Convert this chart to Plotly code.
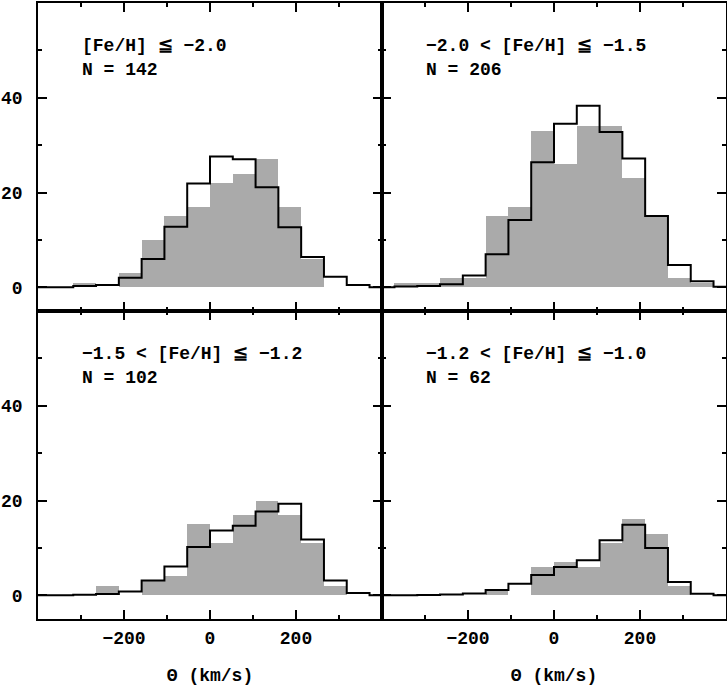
import plotly.graph_objects as go
from plotly.subplots import make_subplots

# bin edges (km/s) for the shaded histograms
bin_left = [-371, -318, -265, -212, -159, -106, -53, 0, 53, 106, 159, 212, 265, 318]
bin_right = [-318, -265, -212, -159, -106, -53, 0, 53, 106, 159, 212, 265, 318, 371]
# edges for the model step line (includes outer partial segments)
step_edges = [-400, -371, -318, -265, -212, -159, -106, -53, 0, 53, 106, 159, 212, 265, 318, 371, 400]

x_tickvals = [-200, 0, 200]
x_ticktext = ["−200", "0", "200"]
y_tickvals = [0, 20, 40]

labels = ["[Fe/H] ≦ −2.0", "−2.0 < [Fe/H] ≦ −1.5", "−1.5 < [Fe/H] ≦ −1.2", "−1.2 < [Fe/H] ≦ −1.0"]
counts_text = ["N = 142", "N = 206", "N = 102", "N = 62"]

gray_p1 = [0, 1, 0, 3, 10, 15, 17, 22, 24, 27, 17, 6, 0, 0]
gray_p2 = [1, 1, 2, 2, 15, 17, 33, 26, 34, 34, 23, 15, 2, 1]
gray_p3 = [0, 0, 2, 0, 3, 4, 15, 11, 17, 20, 17, 11, 2, 0]
gray_p4 = [0, 0, 0, 0, 1, 0, 6, 7, 6, 11, 16, 13, 2, 0]

line_p1 = [0, 0, 0.3, 0.5, 2.0, 6.0, 12.8, 21.9, 27.6, 27.0, 21.1, 12.7, 6.4, 2.25, 0.5, 0]
line_p2 = [0, 0.15, 0.3, 0.65, 2.5, 7.0, 14.2, 26.4, 34.5, 38.3, 32.8, 27.2, 15.05, 4.7, 1.3, 0.1]
line_p3 = [0, 0, 0.1, 0.3, 0.8, 3.15, 6.1, 10.2, 13.7, 14.7, 17.7, 19.3, 11.8, 3.15, 0.5, 0]
line_p4 = [0, 0, 0.05, 0.15, 0.4, 1.1, 2.45, 4.3, 6.0, 7.4, 11.6, 14.9, 10.0, 2.8, 0.35, 0]

grays = [gray_p1, gray_p2, gray_p3, gray_p4]
lines = [line_p1, line_p2, line_p3, line_p4]

FONT = "Liberation Mono"
TXT = dict(family=FONT, size=18, color="black", weight="bold")

fig = make_subplots(rows=2, cols=2, horizontal_spacing=0, vertical_spacing=0,
                    shared_xaxes=True, shared_yaxes=True)

for i in range(4):
    r, c = i // 2 + 1, i % 2 + 1
    centers = [(a + b) / 2 for a, b in zip(bin_left, bin_right)]
    widths = [b - a for a, b in zip(bin_left, bin_right)]
    fig.add_trace(go.Bar(x=centers, y=grays[i], width=widths,
                         marker=dict(color="#aaaaaa", line=dict(width=0)),
                         showlegend=False), row=r, col=c)
    fig.add_trace(go.Scatter(x=step_edges, y=lines[i] + [lines[i][-1]],
                             mode="lines", line=dict(shape="hv", color="black", width=2),
                             showlegend=False), row=r, col=c)
    fig.add_annotation(x=-302, y=51, text=labels[i], showarrow=False,
                       xanchor="left", yanchor="middle", font=TXT, row=r, col=c)
    fig.add_annotation(x=-302, y=45.8, text=counts_text[i], showarrow=False,
                       xanchor="left", yanchor="middle", font=TXT, row=r, col=c)

fig.update_xaxes(range=[-400, 400], tickvals=x_tickvals, ticktext=x_ticktext,
                 ticks="inside", ticklen=9, tickwidth=1.5, tickcolor="black",
                 minor=dict(dtick=100, tick0=0, ticks="inside", ticklen=4, tickwidth=1.5, tickcolor="black"),
                 showline=True, linewidth=1.7, linecolor="black", mirror="allticks",
                 showgrid=False, zeroline=False, automargin=False, ticklabelstandoff=2,
                 tickfont=TXT)
fig.update_yaxes(range=[-5, 60], tickvals=y_tickvals,
                 ticks="inside", ticklen=9, tickwidth=1.5, tickcolor="black",
                 minor=dict(dtick=10, tick0=0, ticks="inside", ticklen=4, tickwidth=1.5, tickcolor="black"),
                 showline=True, linewidth=1.7, linecolor="black", mirror="allticks",
                 showgrid=False, zeroline=False, automargin=False, ticklabelstandoff=10,
                 tickfont=TXT)
for c in (1, 2):
    fig.update_xaxes(title=dict(text="Θ (km/s)", font=TXT, standoff=20), row=2, col=c)

fig.update_layout(width=727, height=687, margin=dict(l=38, r=1, t=3, b=68, autoexpand=False),
                  plot_bgcolor="white", paper_bgcolor="white", bargap=0,
                  font=dict(family=FONT, color="black"))

fig.write_html("out.html", config={"displayModeBar": False},
               post_script="document.body.style.margin='0px';")
